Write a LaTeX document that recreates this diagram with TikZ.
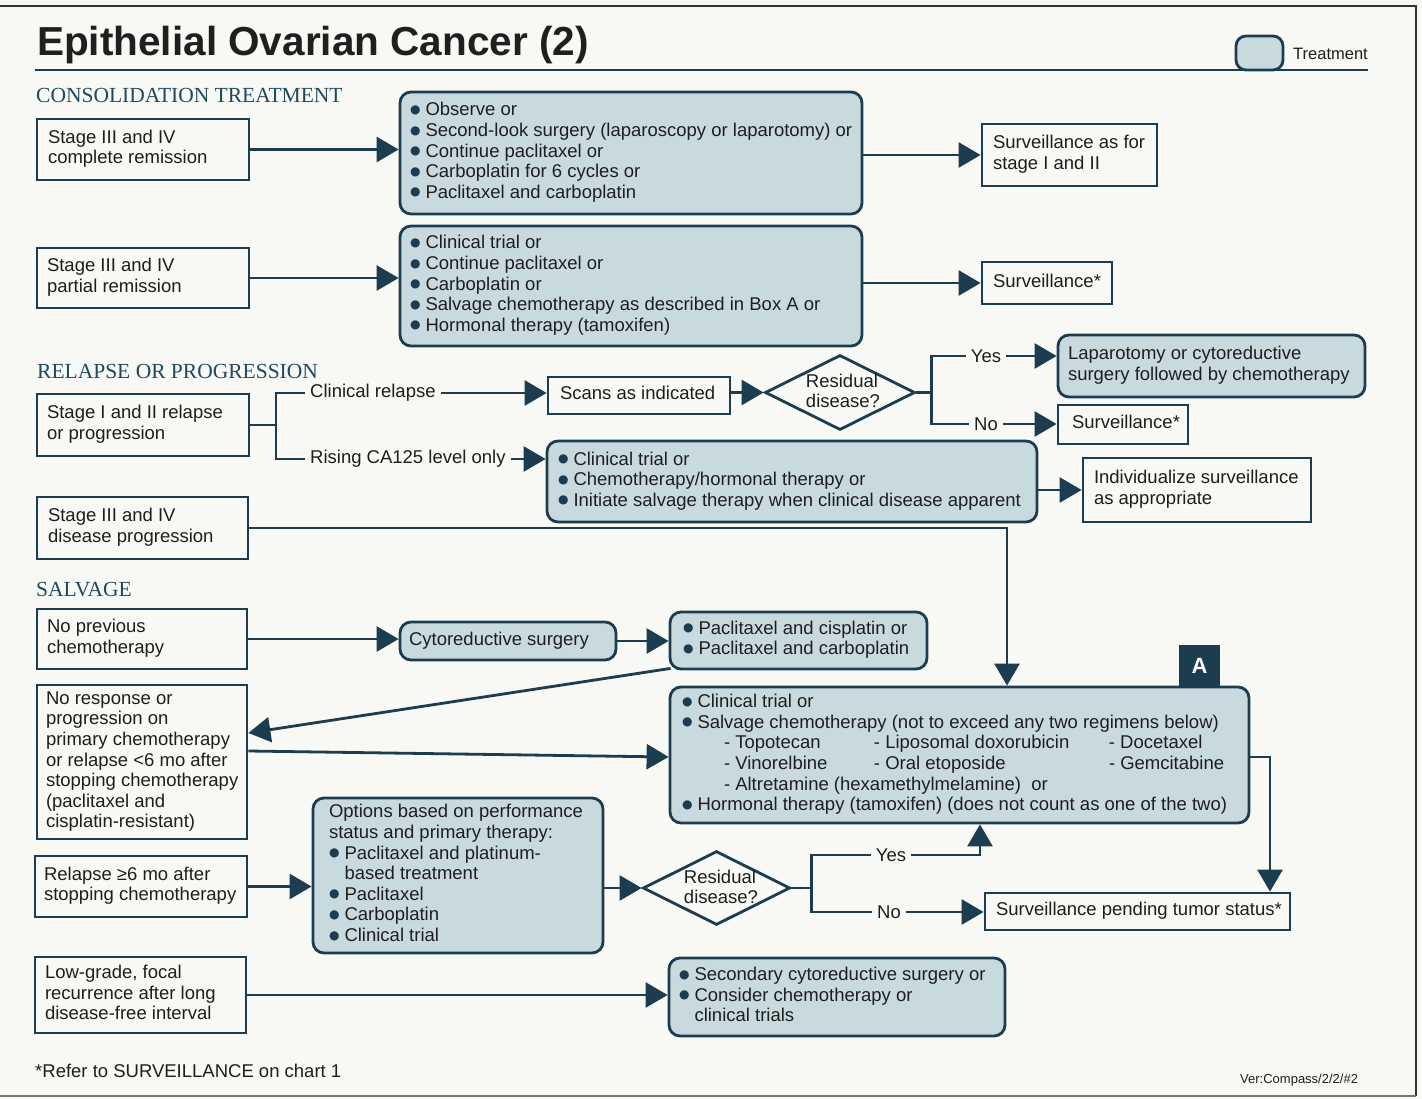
\documentclass[tikz,border=0pt]{standalone}
\usepackage{fontspec}
\setmainfont{Liberation Sans}
\newfontfamily\headfont{Liberation Serif}
\newfontfamily\symfont{DejaVu Sans}
\usetikzlibrary{arrows.meta,shapes.geometric}
\definecolor{ln}{HTML}{1B3D4F}
\definecolor{tfill}{HTML}{C9DADF}
\definecolor{bg}{HTML}{F8F8F4}
\definecolor{txt}{HTML}{1E1E1E}
\definecolor{head}{HTML}{1F4A5E}
\newcommand\bul{\makebox[15.5pt][l]{\raisebox{2.4pt}{\color{ln}\symfont\fontsize{12}{12}\selectfont ●}}}
\newcommand\bulskip{\hspace*{15.5pt}}
\newcommand\lns[2]{\makebox[#1][l]{\begin{tabular}{@{}l@{}}#2\end{tabular}}}
\begin{document}
\begin{tikzpicture}[x=1pt,y=-1pt,
  every node/.style={font=\fontsize{18.5}{20.6}\selectfont, text=txt},
  bxbase/.style={line width=2.8pt, draw=ln, inner sep=0pt},
  wbox/.style={bxbase},
  tbox/.style={bxbase, fill=tfill, rounded corners=11pt},
  conn/.style={line width=2.8pt, draw=ln},
  arr/.style={conn, -{Triangle[length=22pt,width=25pt]}},
  lbl/.style={inner sep=5pt},
  dia/.style={diamond, draw=ln, line width=2.8pt, inner sep=0pt},
]
\fill[bg] (0,0) rectangle (1422,1099);
\useasboundingbox (0,0) rectangle (1422,1099);
% frame
\draw[line width=2pt, draw=black!80] (-5,6) -- (1416,6) -- (1416,1096);
\draw[line width=2pt, draw=black!55] (1416,1096) -- (-5,1096);

% title
\node[anchor=base west, inner sep=0pt, font=\fontsize{40.5}{44}\selectfont\bfseries, text=black!88] (title) at (37,56) {Epithelial Ovarian Cancer (2)};
\draw[conn, line width=2.4pt] (35,70) -- (1368,70);
\node[tbox, rounded corners=10pt, minimum width=47pt, minimum height=34pt] (leg) at (1259.5,53) {};
\node[anchor=west, inner sep=0pt, font=\fontsize{16.5}{18}\selectfont] (legt) at (1293,54) {Treatment};

% section headers
\node[anchor=base west, inner sep=0pt, font=\headfont\fontsize{21.5}{24}\selectfont, text=head] (h1) at (36,103) {CONSOLIDATION TREATMENT};
\node[anchor=base west, inner sep=0pt, font=\headfont\fontsize{21.5}{24}\selectfont, text=head] (h2) at (37,378) {RELAPSE OR PROGRESSION};
\node[anchor=base west, inner sep=0pt, font=\headfont\fontsize{21.5}{24}\selectfont, text=head] (h3) at (36,596) {SALVAGE};

% white boxes
\node[wbox, minimum width=212pt, minimum height=61pt] (b1) at (143,149.5) {\lns{190pt}{Stage III and IV\\complete remission}};
\node[wbox, minimum width=212pt, minimum height=60pt] (b2) at (143,278) {\lns{192pt}{Stage III and IV\\partial remission}};
\node[wbox, minimum width=212pt, minimum height=62pt] (b3) at (143,425) {\lns{192pt}{Stage I and II relapse\\or progression}};
\node[wbox, minimum width=211pt, minimum height=62pt] (b4) at (142.5,528) {\lns{189pt}{Stage III and IV\\disease progression}};
\node[wbox, minimum width=210pt, minimum height=60pt] (b5) at (142,639) {\lns{190pt}{No previous\\chemotherapy}};
\node[wbox, minimum width=210pt, minimum height=154pt] (b6) at (142,762) {\lns{192pt}{No response or\\progression on\\primary chemotherapy\\or relapse <6 mo after\\stopping chemotherapy\\(paclitaxel and\\cisplatin-resistant)}};
\node[wbox, minimum width=212pt, minimum height=61pt] (b7) at (141,886.5) {\lns{194pt}{Relapse ≥6 mo after\\stopping chemotherapy}};
\node[wbox, minimum width=211pt, minimum height=76pt] (b8) at (140.5,995) {\lns{191pt}{Low-grade, focal\\recurrence after long\\disease-free interval}};
\node[wbox, minimum width=175pt, minimum height=62pt] (sv1) at (1069.5,155) {\lns{153pt}{Surveillance as for\\stage I and II}};
\node[wbox, minimum width=130pt, minimum height=42pt] (sv2) at (1047,283) {\lns{108pt}{Surveillance*}};
\node[wbox, minimum width=182pt, minimum height=37pt] (scans) at (639,395.5) {\lns{158pt}{Scans as indicated}};
\node[wbox, minimum width=130pt, minimum height=39pt] (sv3) at (1123,424.5) {\lns{102pt}{Surveillance*}};
\node[wbox, minimum width=228pt, minimum height=64pt] (ind) at (1197,490) {\lns{206pt}{Individualize surveillance\\as appropriate}};
\node[wbox, minimum width=305pt, minimum height=37pt] (spt) at (1137.5,911.5) {\lns{283pt}{Surveillance pending tumor status*}};

% treatment boxes
\node[tbox, minimum width=462pt, minimum height=122pt] (t1) at (631,153) {\lns{442pt}{\bul Observe or\\\bul Second-look surgery (laparoscopy or laparotomy) or\\\bul Continue paclitaxel or\\\bul Carboplatin for 6 cycles or\\\bul Paclitaxel and carboplatin}};
\node[tbox, minimum width=462pt, minimum height=120pt] (t2) at (631,286) {\lns{442pt}{\bul Clinical trial or\\\bul Continue paclitaxel or\\\bul Carboplatin or\\\bul Salvage chemotherapy as described in Box A or\\\bul Hormonal therapy (tamoxifen)}};
\node[tbox, minimum width=307pt, minimum height=62pt] (lap) at (1211.5,366) {\lns{287pt}{Laparotomy or cytoreductive\\surgery followed by chemotherapy}};
\node[tbox, minimum width=490pt, minimum height=81pt] (t3) at (792,481.5) {\lns{468pt}{\bul Clinical trial or\\\bul Chemotherapy/hormonal therapy or\\\bul Initiate salvage therapy when clinical disease apparent}};
\node[tbox, minimum width=216pt, minimum height=38pt] (cyto) at (508,641) {\lns{198pt}{Cytoreductive surgery}};
\node[tbox, minimum width=257pt, minimum height=57pt] (pac) at (798.5,640.5) {\lns{231pt}{\bul Paclitaxel and cisplatin or\\\bul Paclitaxel and carboplatin}};
\node[tbox, minimum width=579pt, minimum height=136pt] (A) at (959.5,755) {\lns{555pt}{\bul Clinical trial or\\\bul Salvage chemotherapy (not to exceed any two regimens below)\\\hspace*{42pt}\makebox[150pt][l]{- Topotecan}\makebox[235pt][l]{- Liposomal doxorubicin}- Docetaxel\\\hspace*{42pt}\makebox[150pt][l]{- Vinorelbine}\makebox[235pt][l]{- Oral etoposide}- Gemcitabine\\\hspace*{42pt}- Altretamine (hexamethylmelamine)\ \ or\\\bul Hormonal therapy (tamoxifen) (does not count as one of the two)}};
\node[fill=ln, minimum width=41pt, minimum height=42pt, inner sep=0pt, text=white, font=\fontsize{22}{24}\selectfont\bfseries] (Alab) at (1199.5,666) {A};
\node[tbox, minimum width=290pt, minimum height=155pt] (opt) at (458,875.5) {\lns{258pt}{Options based on performance\\status and primary therapy:\\\bul Paclitaxel and platinum-\\\bulskip based treatment\\\bul Paclitaxel\\\bul Carboplatin\\\bul Clinical trial}};
\node[tbox, minimum width=336pt, minimum height=78pt] (sec) at (837,997) {\lns{316pt}{\bul Secondary cytoreductive surgery or\\\bul Consider chemotherapy or\\\bulskip clinical trials}};

% diamonds
\node[dia, minimum width=150pt, minimum height=75pt] (d1) at (840,392.5) {};
\node[align=left, inner sep=0pt] (d1t) at (843,391) {Residual\\disease?};
\node[dia, minimum width=147pt, minimum height=74pt] (d2) at (716.5,888) {};
\node[align=left, inner sep=0pt] (d2t) at (721,887) {Residual\\disease?};

% branch labels
\node[lbl, anchor=west] (cr) at (305,393) {Clinical relapse};
\node[lbl, anchor=west] (rc) at (305,459) {Rising CA125 level only};
\node[lbl] (y1) at (986,356) {Yes};
\node[lbl] (n1) at (986,424) {No};
\node[lbl] (y2) at (891,855) {Yes};
\node[lbl] (n2) at (889,912) {No};

% connectors
\draw[arr] (b1.east) -- (t1.west |- b1.east);
\draw[arr] (t1.east |- sv1.west) -- (sv1.west);
\draw[arr] (b2.east) -- (t2.west |- b2.east);
\draw[arr] (t2.east |- sv2.west) -- (sv2.west);

\draw[conn] (b3.east) -- (b3.east -| 276,0) coordinate (j0);
\draw[conn] (cr.west) -| (j0) |- (rc.west);
\draw[arr] (cr.east) -- (scans.west |- cr.east);
\draw[arr] (rc.east) -- (t3.west |- rc.east);
\draw[arr] (scans.east |- d1.west) -- (d1.west);
\draw[conn] (d1.east) -- ++(15,0) coordinate (j1);
\draw[conn] (y1.west) -| (j1) |- (n1.west);
\draw[arr] (y1.east) -- (lap.west |- y1.east);
\draw[arr] (n1.east) -- (sv3.west |- n1.east);
\draw[arr] (t3.east |- ind.west) -- (ind.west);

\draw[arr] (b4.east) -| (A.north -| 1007,0);
\draw[arr] (b5.east) -- (cyto.west |- b5.east);
\draw[arr] (cyto.east) -- (pac.west |- cyto.east);
\draw[arr] ([xshift=2pt,yshift=2pt]pac.south west) -- (b6.east |- 0,733);
\draw[arr] (b6.east |- 0,751) -- (A.west |- 0,757);
\draw[arr] (A.east |- 0,757) -| (spt.north -| 1270,0);
\draw[arr] (b7.east) -- (opt.west |- b7.east);
\draw[arr] (opt.east |- d2.west) -- (d2.west);
\draw[conn] (d2.east) -- ++(20,0) coordinate (j2);
\draw[conn] (y2.west) -| (j2) |- (n2.west);
\draw[arr] (y2.east) -| (A.south -| 980,0);
\draw[arr] (n2.east) -- (spt.west |- n2.east);
\draw[arr] (b8.east) -- (sec.west |- b8.east);

% footnotes
\node[anchor=base west, inner sep=0pt] (fn) at (35,1077) {*Refer to SURVEILLANCE on chart 1};
\node[anchor=base west, inner sep=0pt, font=\fontsize{13}{15}\selectfont] (ver) at (1240,1083) {Ver:Compass/2/2/\#2};
\end{tikzpicture}
\end{document}
